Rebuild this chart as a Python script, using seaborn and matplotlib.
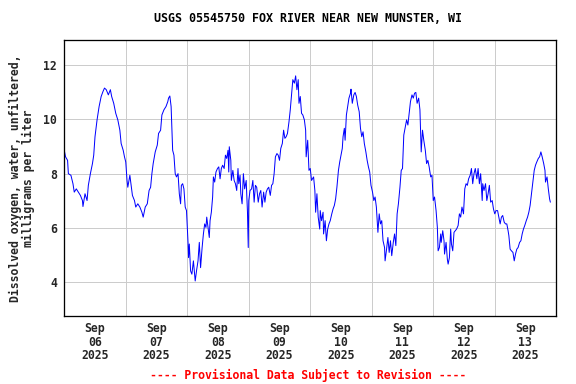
import numpy as np
import pandas as pd
import matplotlib
matplotlib.use("Agg")
import matplotlib.pyplot as plt
import seaborn as sns

title = "USGS 05545750 FOX RIVER NEAR NEW MUNSTER, WI"
ylabel = "Dissolved oxygen, water, unfiltered,\nmilligrams per liter"
footnote = "---- Provisional Data Subject to Revision ----"
day_labels = ["Sep\n06\n2025", "Sep\n07\n2025", "Sep\n08\n2025", "Sep\n09\n2025",
              "Sep\n10\n2025", "Sep\n11\n2025", "Sep\n12\n2025", "Sep\n13\n2025"]

# hours since 2025-09-06 00:00
hours = [
    0.1, 0.6, 1.4, 1.7, 2.7, 3.5, 4.0, 4.8, 5.6, 6.4, 7.2, 7.4, 8.2, 9.0, 9.5, 10.3,
    11.1, 11.6, 12.1, 12.9, 13.7, 14.5, 15.2, 15.8, 16.5, 17.3, 18.1, 18.6, 19.4, 20.2,
    21.0, 21.8, 22.3, 23.1, 23.6, 24.1, 24.6, 24.9, 25.7, 26.2, 26.7, 27.5, 28.0, 28.8,
    29.6, 30.4, 30.9, 31.7, 32.5, 33.2, 33.8, 34.3, 34.8, 35.6, 36.4, 36.9, 37.7, 38.2,
    39.0, 39.8, 40.5, 40.8, 41.3, 41.8, 42.4, 42.9, 43.4, 43.9, 44.5, 45.0, 45.5, 45.8,
    46.3, 46.8, 47.3, 47.8,
    48.4, 48.6, 48.9, 49.4, 49.9, 50.5, 51.2, 51.8, 52.3, 52.8, 53.3, 53.9, 54.4, 54.9,
    55.4, 55.7, 56.2, 56.7, 57.0, 57.5, 58.0, 58.3, 58.8, 59.3, 59.9, 60.4, 60.9, 61.4,
    61.9, 62.5, 63.0, 63.5, 64.0, 64.3, 64.5, 65.1, 65.3, 65.9, 66.4, 66.9, 67.4, 67.9,
    68.2, 68.7, 69.0, 69.5, 70.0, 70.5, 71.1, 71.6, 71.9, 72.1, 72.6, 73.2, 73.7, 74.2,
    74.7, 75.2, 75.8, 76.3, 76.8, 77.3, 77.9, 78.4, 78.9, 79.4, 79.9, 80.5, 81.0, 81.5,
    82.0, 82.5, 83.1, 83.6, 84.1, 84.6, 85.2, 85.7, 86.2, 86.7, 87.2, 87.8, 88.3, 88.8,
    89.3, 89.9, 90.4, 90.9, 91.4, 91.7, 92.2, 92.7, 93.2, 93.8, 94.3, 94.5, 95.1, 95.6,
    96.1, 96.6,
    97.4, 97.9, 98.2, 98.7, 99.2, 99.8, 100.0, 100.5, 101.1, 101.3, 101.9, 102.4, 102.9,
    103.4, 103.9, 104.5, 105.0, 105.5, 106.0, 106.5, 107.1, 107.6, 108.1, 108.6, 108.9,
    109.4, 109.7, 110.2, 110.7, 111.2, 111.8, 112.0, 112.5, 113.1, 113.6, 114.1, 114.6,
    115.2, 115.7, 116.2, 116.7, 117.2, 117.8, 118.3, 118.8, 119.3, 119.8, 120.4, 120.9,
    121.4, 121.9, 122.5, 123.0, 123.5, 124.0, 124.5, 125.1, 125.3, 125.8, 126.4, 126.9,
    127.4, 127.9, 128.5, 129.0, 129.5, 130.0, 130.5, 131.1, 131.6, 132.1, 132.6, 133.2,
    133.7, 134.2, 134.7, 135.2, 135.8, 136.3, 136.8, 137.3, 137.8, 138.4, 138.9, 139.4,
    139.9, 140.4, 141.0, 141.5, 142.0, 142.5, 143.1, 143.6, 144.1,
    144.6, 145.2, 145.7, 146.0, 146.5, 147.0, 147.2, 147.8, 148.3, 148.5, 149.1, 149.6,
    149.9, 150.4, 150.9, 151.2, 151.7, 152.2, 152.7, 153.2, 153.8, 154.3, 154.8, 155.3,
    155.9, 156.4, 156.9, 157.4, 157.9, 158.5, 159.0, 159.5, 160.0, 160.5, 161.1, 161.6,
    162.1, 162.6, 163.2, 163.4, 163.9, 164.5, 165.0, 165.5, 166.0, 166.5, 167.1, 167.6,
    168.1, 168.6, 169.2, 169.7, 170.2, 170.7, 171.2, 171.8, 172.3, 172.8, 173.3, 173.6,
    174.1, 174.6, 175.2, 175.7, 176.2, 176.7, 177.2, 177.8, 178.3, 178.8, 179.3, 179.8,
    180.4, 180.9, 181.4, 181.9, 182.5, 183.0, 183.5, 184.0, 184.5, 185.1, 185.6, 186.1,
    186.6, 187.2, 187.7, 187.9, 188.5, 189.0, 189.5, 189.8,
]

oxygen = [
    8.86, 8.62, 8.49, 8.00, 7.94, 7.63, 7.32, 7.44, 7.32, 7.20, 7.01, 6.79, 7.26, 7.01, 7.57, 8.00,
    8.37, 8.68, 9.36, 9.98, 10.47, 10.84, 11.02, 11.15, 11.09, 10.90, 11.09, 10.84, 10.59, 10.22,
    9.98, 9.60, 9.11, 8.86, 8.62, 8.43, 7.75, 7.50, 7.94, 7.57, 7.20, 7.01, 6.77, 6.89,
    6.77, 6.58, 6.40, 6.77, 6.89, 7.38, 7.50, 8.00, 8.37, 8.80, 9.05, 9.48, 9.60, 10.16,
    10.35, 10.47, 10.65, 10.78, 10.86, 10.47, 8.86, 8.68, 8.00, 7.88, 8.00, 7.26, 6.89, 7.57,
    7.63, 7.44, 6.77, 6.64,
    5.47, 4.91, 5.41, 4.42, 4.30, 4.79, 4.05, 4.48, 4.79, 5.47, 4.54, 5.28, 5.78, 6.15,
    6.02, 6.40, 6.02, 5.65, 6.27, 6.58, 7.14, 7.88, 7.69, 8.06, 8.19, 8.25, 7.81, 8.19,
    8.31, 8.19, 8.68, 8.56, 8.86, 8.06, 8.99, 8.49, 7.75, 8.12, 7.75, 7.63, 7.38, 8.19,
    7.63, 7.94, 7.26, 6.89, 8.00, 7.44, 7.75, 6.58, 5.28, 7.01, 7.38, 7.44, 7.75, 6.95,
    7.57, 7.50, 6.95, 7.26, 7.38, 6.77, 7.32, 6.95, 7.32, 7.44, 7.50, 7.20, 7.57, 7.63,
    8.00, 8.62, 8.74, 8.68, 8.49, 8.93, 9.11, 9.60, 9.30, 9.36, 9.48, 9.91, 10.35, 10.90,
    11.46, 11.33, 11.60, 11.09, 11.46, 10.59, 10.84, 10.22, 10.16, 9.98, 9.60, 8.62, 9.23, 8.12,
    8.19, 7.75,
    7.88, 7.38, 6.58, 7.26, 6.40, 5.96, 6.64, 6.27, 6.58, 5.78, 6.27, 5.53, 5.96,
    6.15, 6.27, 6.52, 6.70, 6.83, 7.07, 7.50, 8.12, 8.43, 8.68, 8.93, 9.36,
    9.67, 9.23, 10.16, 10.47, 10.78, 10.96, 11.11, 10.59, 10.90, 10.99, 10.84, 10.53,
    10.28, 9.67, 9.36, 9.54, 9.11, 8.80, 8.49, 8.25, 8.06, 7.57, 7.32, 7.01,
    7.14, 6.77, 5.84, 6.52, 6.15, 6.27, 5.53, 5.28, 4.79, 5.16, 5.65, 5.10,
    5.53, 4.98, 5.47, 5.78, 5.35, 6.52, 6.89, 7.50, 8.12, 8.19, 9.42, 9.73,
    9.98, 9.79, 10.22, 10.65, 10.90, 10.78, 10.96, 10.99, 10.59, 10.78, 10.35, 8.80,
    9.60, 9.23, 8.86, 8.37, 8.49, 8.25, 7.88, 7.94, 7.01,
    7.14, 6.64, 6.02, 5.16, 5.28, 5.78, 5.47, 5.90, 5.53, 5.04, 5.47, 4.85,
    4.67, 4.91, 5.96, 5.41, 5.16, 5.84, 5.90, 5.96, 6.09, 6.52, 6.40, 6.77,
    6.52, 7.44, 7.63, 7.57, 7.81, 7.94, 8.19, 7.63, 8.00, 8.19, 7.81, 8.19,
    7.63, 8.00, 7.01, 7.63, 7.38, 7.63, 7.01, 7.26, 7.57, 6.95, 7.01, 6.70,
    6.52, 6.64, 6.64, 6.40, 6.15, 6.40, 6.46, 6.21, 6.15, 6.15, 5.90, 5.72,
    5.22, 5.16, 5.10, 4.79, 5.04, 5.22, 5.28, 5.47, 5.53, 5.78, 5.96, 6.09,
    6.27, 6.40, 6.58, 6.83, 7.32, 7.75, 8.12, 8.31, 8.43, 8.56, 8.62, 8.80,
    8.62, 8.37, 8.12, 7.69, 7.88, 7.44, 7.07, 6.95,
]

df = pd.DataFrame({"day": np.array(hours) / 24.0, "do": oxygen})

sns.set_style("white")
plt.rcParams["font.family"] = ["DejaVu Sans Mono"]
plt.rcParams["font.weight"] = "bold"

fig = plt.figure(figsize=(8, 384 / 72), dpi=72)
ax = fig.add_axes([64 / 576, 1 - 316 / 384, (556 - 64) / 576, (316 - 40) / 384])

sns.lineplot(data=df, x="day", y="do", ax=ax, color="#0000ff", linewidth=1.0,
             estimator=None, sort=False)

ax.set_xlim(0, 8)
ax.set_ylim(2.76, 12.92)
ax.set_yticks([4, 6, 8, 10, 12])
ax.set_yticklabels(["4", "6", "8", "10", "12"], fontsize=11.5, fontweight="bold")
ax.set_xticks([i + 0.5 for i in range(8)])
ax.set_xticklabels(day_labels, fontsize=11.5, fontweight="bold", linespacing=1.05)
ax.set_xticks(range(1, 8), minor=True)
ax.tick_params(axis="both", which="both", length=0)
ax.tick_params(axis="y", pad=7)
ax.tick_params(axis="x", pad=6)
ax.grid(True, axis="y", which="major", color="#cccccc", linewidth=1)
ax.grid(True, axis="x", which="minor", color="#cccccc", linewidth=1)
ax.grid(False, axis="x", which="major")
ax.set_axisbelow(True)
for s in ax.spines.values():
    s.set_color("black")
    s.set_linewidth(1.3)

ax.set_xlabel("")
ax.set_ylabel(ylabel, fontsize=11.5, fontweight="bold", linespacing=1.0, labelpad=8)

fig.text(308 / 576, 1 - 19 / 384, title, ha="center", va="center",
         fontsize=11.6, fontweight="bold", color="black")
fig.text(308 / 576, 1 - 375 / 384, footnote, ha="center", va="center",
         fontsize=11.5, fontweight="bold", color="#ff0000")

fig.savefig("out.png", dpi=72, facecolor="white")
